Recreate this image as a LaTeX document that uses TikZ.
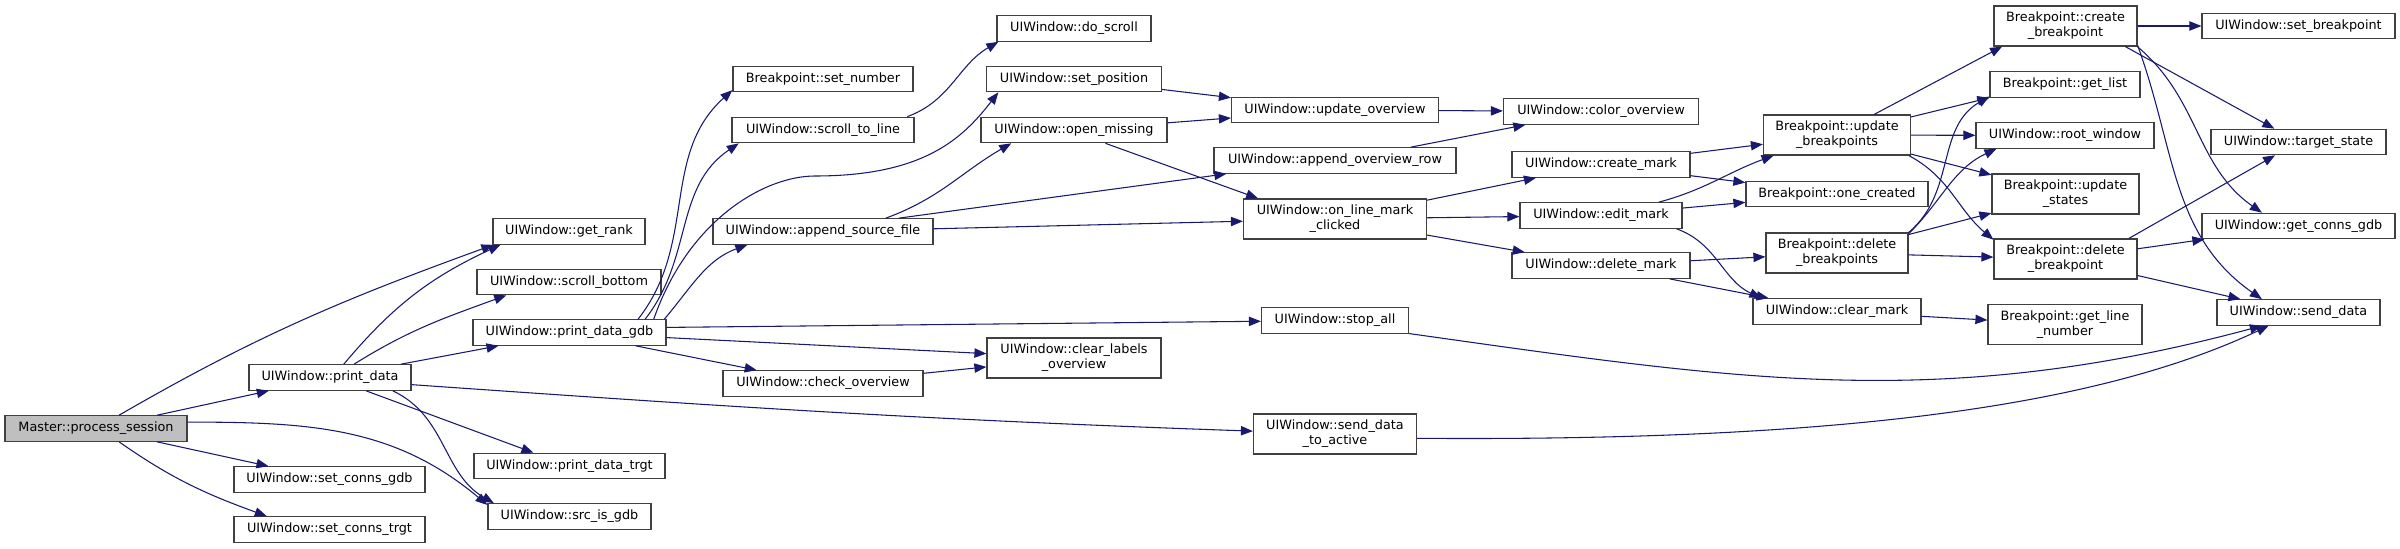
\documentclass[tikz,border=0pt]{standalone}
\usepackage{fontspec}
\setmainfont{DejaVu Sans}
\usetikzlibrary{arrows.meta}
\definecolor{callcol}{HTML}{191970}

\begin{document}
\begin{tikzpicture}[
  x=0.75pt, y=0.75pt,
  font=\fontsize{9.6}{11.25}\selectfont,
  fn/.style={draw=black!75, line width=0.9pt, fill=white, inner sep=0pt,
             minimum height=19.1pt, minimum width=#1*0.75pt, align=center},
  two/.style={minimum height=30pt},
  root/.style={fill=black!25},
  call/.style={draw=callcol, line width=0.8pt,
               -{Triangle[length=9pt,width=7pt]}}
]
\useasboundingbox (0,0) rectangle (2400,-549);

\node[fn=182, root] (ps) at (96,-428.5) {Master::process\_session};
\node[fn=162] (pd) at (330,-377.5) {UIWindow::print\_data};
\node[fn=191] (scg) at (329.5,-479.5) {UIWindow::set\_conns\_gdb};
\node[fn=191] (sct) at (329.5,-529.5) {UIWindow::set\_conns\_trgt};
\node[fn=152] (gr) at (569,-231.5) {UIWindow::get\_rank};
\node[fn=184] (sb) at (569,-282) {UIWindow::scroll\_bottom};
\node[fn=193] (pdg) at (569.5,-332.5) {UIWindow::print\_data\_gdb};
\node[fn=191] (pdt) at (569.5,-466) {UIWindow::print\_data\_trgt};
\node[fn=163] (sig) at (569.5,-516.5) {UIWindow::src\_is\_gdb};
\node[fn=180] (sn) at (823,-79) {Breakpoint::set\_number};
\node[fn=182] (stl) at (823,-130) {UIWindow::scroll\_to\_line};
\node[fn=220] (asf) at (823,-231.5) {UIWindow::append\_source\_file};
\node[fn=200] (co) at (823,-383.5) {UIWindow::check\_overview};
\node[fn=154] (ds) at (1074,-28.5) {UIWindow::do\_scroll};
\node[fn=175] (sp) at (1074,-79) {UIWindow::set\_position};
\node[fn=186] (om) at (1074,-130) {UIWindow::open\_missing};
\node[fn=174, two] (clo) at (1074,-358) {UIWindow::clear\_labels\\\_overview};
\node[fn=207] (uo) at (1335,-110) {UIWindow::update\_overview};
\node[fn=242] (aor) at (1335,-160.5) {UIWindow::append\_overview\_row};
\node[fn=183, two] (olmc) at (1335,-219) {UIWindow::on\_line\_mark\\\_clicked};
\node[fn=147] (sa) at (1335,-320.5) {UIWindow::stop\_all};
\node[fn=163, two] (sdta) at (1335,-434) {UIWindow::send\_data\\\_to\_active};
\node[fn=195] (cov) at (1601,-111.5) {UIWindow::color\_overview};
\node[fn=178] (cm) at (1601,-164.5) {UIWindow::create\_mark};
\node[fn=162] (em) at (1601,-215.5) {UIWindow::edit\_mark};
\node[fn=178] (dm) at (1601,-265.5) {UIWindow::delete\_mark};
\node[fn=147, two] (ub) at (1837,-135) {Breakpoint::update\\\_breakpoints};
\node[fn=182] (oc) at (1837,-194) {Breakpoint::one\_created};
\node[fn=142, two] (dbs) at (1837,-253) {Breakpoint::delete\\\_breakpoints};
\node[fn=168] (cmk) at (1837,-311.5) {UIWindow::clear\_mark};
\node[fn=143, two] (cb) at (2065.5,-26) {Breakpoint::create\\\_breakpoint};
\node[fn=150] (gl) at (2065,-84.5) {Breakpoint::get\_list};
\node[fn=178] (rw) at (2065,-135.5) {UIWindow::root\_window};
\node[fn=147, two] (us) at (2065.5,-194) {Breakpoint::update\\\_states};
\node[fn=143, two] (db) at (2065.5,-259) {Breakpoint::delete\\\_breakpoint};
\node[fn=154, two] (gln) at (2065,-324.5) {Breakpoint::get\_line\\\_number};
\node[fn=193] (sbp) at (2298.5,-26) {UIWindow::set\_breakpoint};
\node[fn=175] (ts) at (2298.5,-142) {UIWindow::target\_state};
\node[fn=193] (gcg) at (2298.5,-226) {UIWindow::get\_conns\_gdb};
\node[fn=163] (sd) at (2298.5,-312.5) {UIWindow::send\_data};
\coordinate (spv) at (815,-176);

\draw[call] (ps.30) to[out=30,in=200] (gr.190);
\draw[call] (ps) -- (pd);
\draw[call] (ps.4) to[out=0,in=140] (sig.172);
\draw[call] (ps) -- (scg);
\draw[call] (ps.-30) to[out=-35,in=160] (sct.168);
\draw[call] (pd.44) to[out=50,in=205] (gr.191);
\draw[call] (pd.29) to[out=32,in=200] (sb.192);
\draw[call] (pd) -- (pdg);
\draw[call] (pd.-5) to[out=-4,in=178] (sdta.178);
\draw[call] (pd) -- (pdt);
\draw[call] (pd.-12) to[out=-25,in=150] (sig.170);
\draw[call] (pdg.11) to[out=52,in=222] (sn.187);
\draw[call] (pdg.10) to[out=52,in=214] (stl.189);
\draw[call] (pdg.9) .. controls +(35,100) and +(-50,0) .. (spv)
  .. controls +(110,0) and +(-35,-45) .. (sp.190);
\draw[call] (pdg.8) to[out=50,in=200] (asf.190);
\draw[call] (pdg.3) -- (sa);
\draw[call] (pdg.-3) -- (clo);
\draw[call] (pdg) -- (co);
\draw[call] (co) -- (clo);
\draw[call] (stl.9) to[out=20,in=210] (ds.190);
\draw[call] (asf.12) to[out=20,in=210] (om.192);
\draw[call] (asf.10) -- (aor.187);
\draw[call] (asf) -- (olmc);
\draw[call] (sp) -- (uo);
\draw[call] (om) -- (uo);
\draw[call] (om.-23) -- (olmc.165);
\draw[call] (uo) -- (cov);
\draw[call] (aor.10) -- (cov.190);
\draw[call] (olmc) -- (cm);
\draw[call] (olmc) -- (em);
\draw[call] (olmc) -- (dm);
\draw[call] (cm) -- (ub);
\draw[call] (cm) -- (oc);
\draw[call] (em.13) to[out=15,in=200] (ub.198);
\draw[call] (em) -- (oc);
\draw[call] (em.-10) to[out=-20,in=155] (cmk.170);
\draw[call] (dm) -- (dbs);
\draw[call] (dm) -- (cmk);
\draw[call] (cmk) -- (gln);
\draw[call] (ub.29) -- (cb.198);
\draw[call] (ub) -- (gl.190);
\draw[call] (ub) -- (rw);
\draw[call] (ub) -- (us);
\draw[call] (ub.-16) to[out=-28,in=140] (db.165);
\draw[call] (dbs.16) to[out=40,in=210] (gl.189);
\draw[call] (dbs.15) to[out=45,in=205] (rw.191);
\draw[call] (dbs) -- (us);
\draw[call] (dbs) -- (db);
\draw[call] (cb) -- (sbp);
\draw[call] (cb.-19) -- (ts);
\draw[call] (cb.-16) to[out=-40,in=145] (gcg.160);
\draw[call] (cb.-15) to[out=-70,in=145] (sd.160);
\draw[call] (db.18) -- (ts);
\draw[call] (db) -- (gcg);
\draw[call] (db) -- (sd);
\draw[call] (sa.-10) to[out=-8,in=195] (sd.200);
\draw[call] (sdta.-3) .. controls +(400,-3) and +(-180,-85) .. (sd.204);
\end{tikzpicture}
\end{document}
